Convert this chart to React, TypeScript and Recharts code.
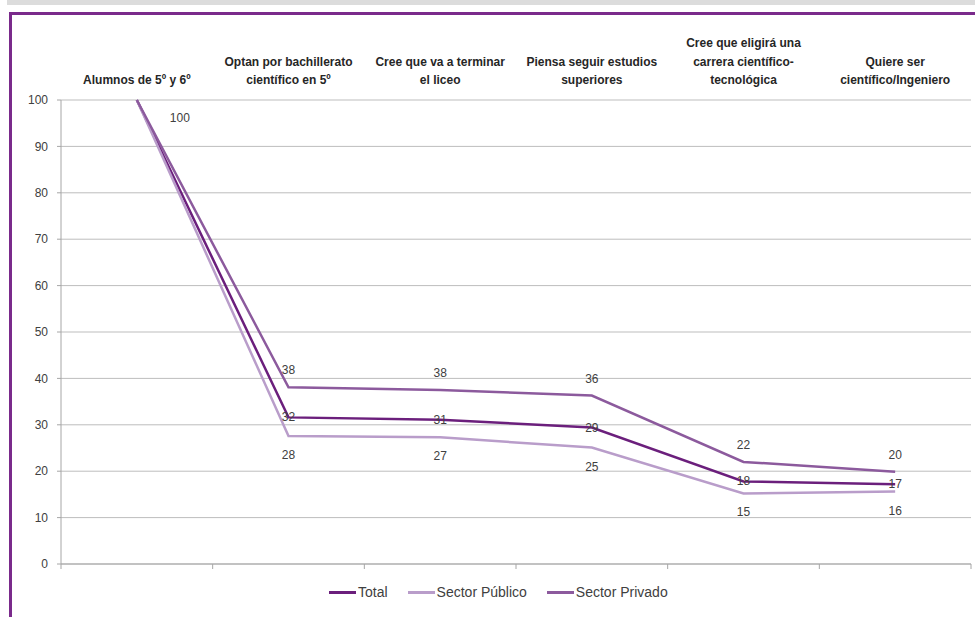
import { LineChart, Line, XAxis, YAxis, CartesianGrid, LabelList } from "recharts";

// category headers, line breaks as drawn above the plot
const categories = [
  "Alumnos de 5º y 6º",
  "Optan por bachillerato\ncientífico en 5º",
  "Cree que va a terminar\nel liceo",
  "Piensa seguir estudios\nsuperiores",
  "Cree que eligirá una\ncarrera científico-\ntecnológica",
  "Quiere ser\ncientífico/Ingeniero",
];

const total = [100, 31.6, 31.1, 29.4, 17.8, 17.2];
const publico = [100, 27.6, 27.3, 25.1, 15.2, 15.6];
const privado = [100, 38.1, 37.5, 36.3, 22.0, 19.9];

const yTicks = [0, 10, 20, 30, 40, 50, 60, 70, 80, 90, 100];

const series = [
  { key: "total", name: "Total", color: "#6b1f7c", labelDy: 0, showFirst: true },
  { key: "publico", name: "Sector Público", color: "#b99dca", labelDy: 19, showFirst: false },
  { key: "privado", name: "Sector Privado", color: "#8c5a9d", labelDy: -17, showFirst: false },
];

// x sits in the middle of each category band, bands are 1 wide
const data = categories.map((name, i) => ({
  x: i + 0.5,
  name,
  total: total[i],
  publico: publico[i],
  privado: privado[i],
}));

const boundaryTicks = categories.map((_, i) => i).concat(categories.length);
const centerTicks = categories.map((_, i) => i + 0.5);

const FONT = "'Liberation Sans', Arial, sans-serif";

function HeaderTick(props: any) {
  const { x, y, payload } = props;
  const lines = categories[Math.floor(payload.value)].split("\n");
  return (
    <text x={x} textAnchor="middle" fontSize={12} fontWeight={700} fill="#262626" fontFamily={FONT}>
      {lines.map((line, i) => (
        <tspan key={i} x={x} y={y - 8 - (lines.length - 1 - i) * 18.5}>
          {line}
        </tspan>
      ))}
    </text>
  );
}

const makeLabel = (dy: number, showFirst: boolean) => (props: any) => {
  const { x, y, value, index } = props;
  if (index === 0) {
    if (!showFirst) return null;
    return (
      <text x={x + 43} y={y + 18} textAnchor="middle" dominantBaseline="central" fontSize={12} fill="#404040" fontFamily={FONT}>
        {Math.round(value)}
      </text>
    );
  }
  return (
    <text x={x} y={y + dy} textAnchor="middle" dominantBaseline="central" fontSize={12} fill="#404040" fontFamily={FONT}>
      {Math.round(value)}
    </text>
  );
};

export default function App() {
  return (
    <div style={{ position: "absolute", left: 0, top: 0, width: 975, height: 617, background: "#fff", overflow: "hidden", fontFamily: FONT }}>
      <div style={{ position: "absolute", left: 7, top: 0, right: 0, height: 5, background: "#dcdcdc" }} />
      <div
        style={{
          position: "absolute",
          left: 9,
          top: 12,
          width: 980,
          height: 620,
          borderLeft: "3px solid #7a2a8b",
          borderTop: "3px solid #7a2a8b",
        }}
      />
      <div style={{ position: "absolute", left: 0, top: 0 }}>
        <LineChart width={975} height={617} data={data} margin={{ top: 10, right: 4, bottom: 33, left: 10 }}>
          <CartesianGrid vertical={false} stroke="#bdbdbd" strokeWidth={1} />
          <XAxis
            xAxisId="top"
            orientation="top"
            type="number"
            dataKey="x"
            domain={[0, categories.length]}
            allowDataOverflow
            ticks={centerTicks}
            interval={0}
            axisLine={false}
            tickLine={false}
            height={90}
            tick={<HeaderTick />}
          />
          <XAxis
            xAxisId="bottom"
            type="number"
            dataKey="x"
            domain={[0, categories.length]}
            allowDataOverflow
            ticks={boundaryTicks}
            interval={0}
            tickFormatter={() => ""}
            tickSize={5}
            stroke="#a6a6a6"
            height={20}
          />
          <YAxis
            domain={[0, 100]}
            ticks={yTicks}
            interval={0}
            width={51}
            tickSize={4}
            tickMargin={9}
            stroke="#a6a6a6"
            tick={{ fontSize: 12, fill: "#404040", fontFamily: FONT }}
          />
          {series.map((s) => (
            <Line
              key={s.key}
              xAxisId="bottom"
              type="linear"
              dataKey={s.key}
              name={s.name}
              stroke={s.color}
              strokeWidth={2.5}
              dot={false}
              isAnimationActive={false}
            >
              <LabelList dataKey={s.key} content={makeLabel(s.labelDy, s.showFirst)} />
            </Line>
          ))}
        </LineChart>
      </div>
      <div style={{ position: "absolute", left: 329, top: 584, display: "flex", alignItems: "center", fontSize: 14, color: "#404040" }}>
        {series.map((s) => (
          <div key={s.key} style={{ display: "flex", alignItems: "center", marginRight: 20 }}>
            <span style={{ display: "inline-block", width: 27, height: 3, background: s.color, marginRight: 2 }} />
            <span>{s.name}</span>
          </div>
        ))}
      </div>
    </div>
  );
}
